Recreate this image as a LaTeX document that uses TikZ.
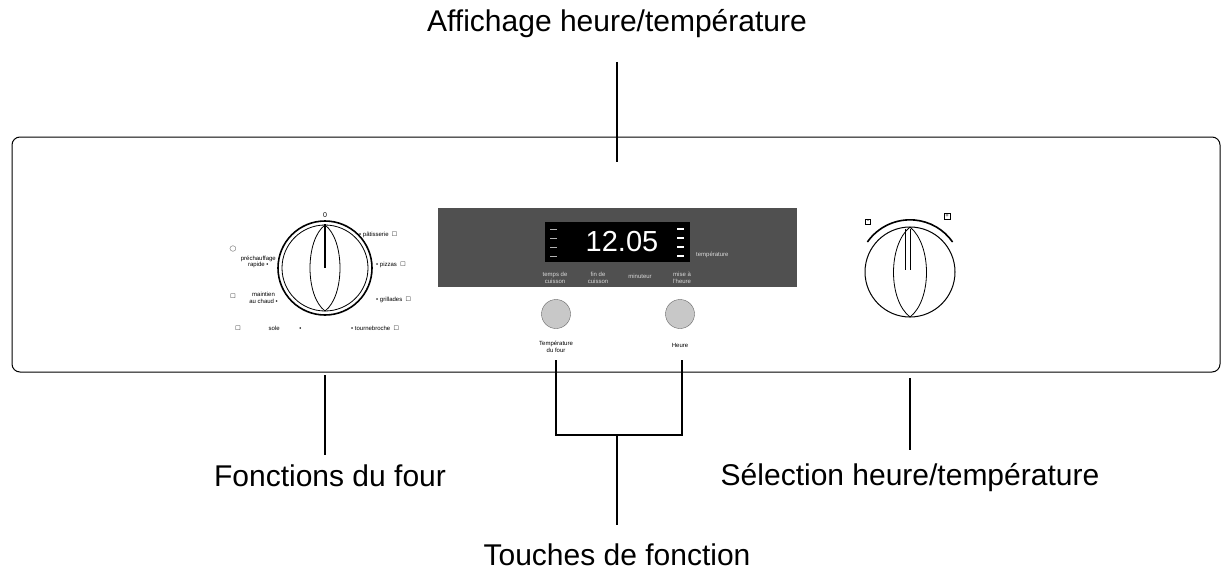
\documentclass[tikz,border=0pt]{standalone}
\usepackage{amssymb}
\usepackage{fontspec}
\setmainfont{Liberation Sans}
\usetikzlibrary{positioning}
\definecolor{panelgrey}{RGB}{80,80,80}
\definecolor{btngrey}{RGB}{200,200,200}
\tikzset{
  lead/.style={line width=1.2pt},
  biglabel/.style={font=\fontsize{30}{34}\selectfont},
  tiny/.style={font=\fontsize{6}{6.5}\selectfont, align=center, inner sep=1pt},
  tinyw/.style={tiny, text=white!85!black},
}
\begin{document}
\begin{tikzpicture}[x=1pt,y=-1pt]
\useasboundingbox (0,0) rectangle (1231,578);
% panel
\draw[line width=1pt, rounded corners=8pt] (12,137) rectangle (1220,372);
% top label
\node[biglabel] (disp) at (617,24) {Affichage heure/température};
\coordinate (dtop) at (617,62);
\coordinate (dbot) at (617,162);
\draw[lead] (dtop) -- (dbot);
% left knob
\coordinate (kl) at (325,268);
\draw[line width=1.6pt] (kl) circle (47);
\draw[line width=0.8pt] (kl) circle (43);
\draw[line width=0.8pt] (325,225) .. controls (305,240) and (305,296) .. (325,311);
\draw[line width=0.8pt] (325,225) .. controls (345,240) and (345,296) .. (325,311);
\draw[line width=2.5pt] (325,224) -- (325,268);
\node[tiny] (zero) at (325,215) {\fontsize{7}{8}\selectfont 0};
\node[tiny, anchor=west] (l1) at (358,235) {• pâtisserie \;$\square$};
\node[tiny, anchor=west] (l2) at (375,265) {• pizzas \;$\square$};
\node[tiny, anchor=west] (l3) at (375,300) {• grillades \;$\square$};
\node[tiny, anchor=west] (l4) at (350,328) {• tournebroche \;$\square$};
\node[tiny, anchor=east] (l5) at (277,262) {préchauffage\\rapide •};
\node[tiny, anchor=east] (l6) at (279,298) {maintien\\au chaud •};
\node[tiny] (l5i) at (233,249) {$\bigcirc$};
\node[tiny] (l6i) at (233,296) {$\square$};
\node[tiny] (l7i) at (238,328) {$\square$};
\node[tiny] (l7) at (285,328) {sole \qquad\quad •};
\coordinate (klb) at (325,375);
\node[biglabel] (fonc) at (330,476) {Fonctions du four};
\draw[lead] (klb) -- (325,455);
% display
\fill[panelgrey] (438,208) rectangle (797,287);
\fill[black] (545,222) rectangle (690,262);
\node[text=white, font=\fontsize{29}{29}\selectfont] (time) at (622,242) {12.05};
\foreach \yy in {229,238,247,256}{
  \draw[white!70!black, line width=0.8pt] (550,\yy) -- (557,\yy);
  \draw[white, line width=1.2pt] (677,\yy) -- (684,\yy);
}
\node[tinyw, anchor=west] (temp) at (695,255) {température};
\node[tinyw] (t1) at (555,278) {temps de\\cuisson};
\node[tinyw] (t2) at (598,278) {fin de\\cuisson};
\node[tinyw] (t3) at (640,276) {minuteur};
\node[tinyw] (t4) at (682,278) {mise à\\l'heure};
% buttons
\node[circle, draw=black!60, fill=btngrey, minimum size=29pt, inner sep=0] (b1) at (556,314) {};
\node[circle, draw=black!60, fill=btngrey, minimum size=29pt, inner sep=0] (b2) at (680,314) {};
\node[tiny] (bt1) at (556,347) {Température\\du four};
\node[tiny] (bt2) at (680,345) {Heure};
\coordinate (c1) at (556,435);
\coordinate (c2) at (682,435);
\coordinate (cm) at (617,435);
\draw[lead] (556,360) -- (c1) -- (c2) -- (682,360);
\node[biglabel] (touch) at (617,555) {Touches de fonction};
\draw[lead] (cm) -- (617,525);
% right knob
\coordinate (kr) at (910,272);
\draw[line width=1pt] (kr) circle (45);
\draw[line width=0.8pt] (910,227) .. controls (888,245) and (888,300) .. (910,317);
\draw[line width=0.8pt] (910,227) .. controls (932,245) and (932,300) .. (910,317);
\draw[line width=0.8pt] (905,229) -- (905,270) (910,229) -- (910,270);
\draw[line width=1.6pt] (867.4,242) arc[start angle=215, end angle=325, radius=52];
\node[tiny, draw, inner sep=1.5pt] (minus) at (868,222) {-};
\node[tiny, draw, inner sep=1.5pt] (plus) at (947,216) {+};
\coordinate (krb) at (910,378);
\node[biglabel] (sel) at (910,478) {Sélection heure/température};
\draw[lead] (krb) -- (910,450);
\end{tikzpicture}
\end{document}
